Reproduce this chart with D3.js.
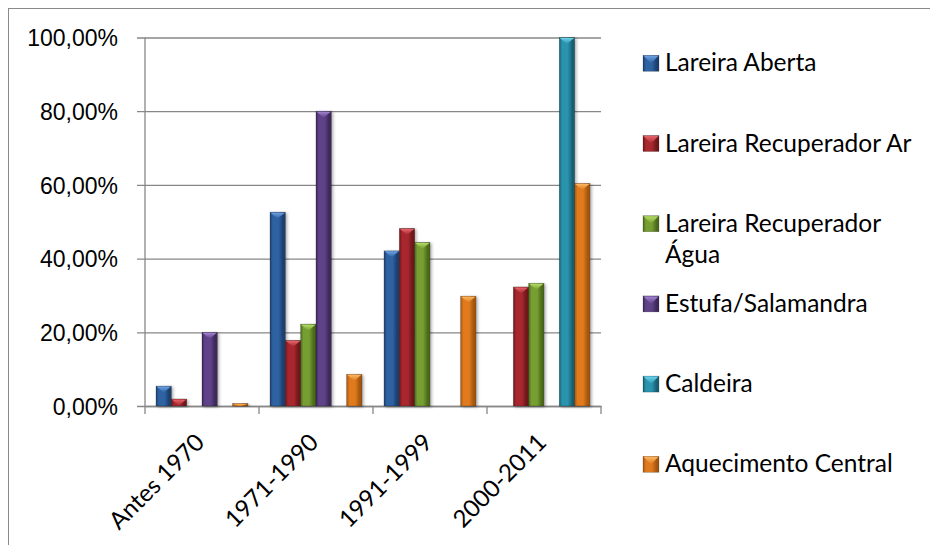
<!DOCTYPE html>
<html>
<head>
<meta charset="utf-8">
<script src="https://cdn.jsdelivr.net/npm/d3@7"></script>
<style>
  html, body { margin: 0; padding: 0; background: #fff; }
  svg { display: block; font-family: Lato, "Open Sans", sans-serif; }
</style>
</head>
<body>
<svg id="chart" width="930" height="545"></svg>
<script>
const categories = ["Antes 1970", "1971-1990", "1991-1999", "2000-2011"];
const seriesNames = [
  "Lareira Aberta",
  "Lareira Recuperador Ar",
  "Lareira Recuperador Água",
  "Estufa/Salamandra",
  "Caldeira",
  "Aquecimento Central"
];
const lareiraAberta = [0.054, 0.526, 0.421, 0];
const recuperadorAr = [0.019, 0.178, 0.482, 0.323];
const recuperadorAgua = [0, 0.222, 0.444, 0.333];
const estufa = [0.2, 0.8, 0, 0];
const caldeira = [0, 0, 0, 1.0];
const aquecimento = [0.007, 0.086, 0.298, 0.604];
const yTicks = [0, 0.2, 0.4, 0.6, 0.8, 1.0];

const seriesValues = [lareiraAberta, recuperadorAr, recuperadorAgua, estufa, caldeira, aquecimento];

// base / light / dark per series
const palette = [
  { base: "#2d62a3", light: "#6ea2e2", dark: "#1c3f6e" },
  { base: "#a8282e", light: "#e8646a", dark: "#6e181c" },
  { base: "#769e30", light: "#b4dc66", dark: "#4c6a1c" },
  { base: "#5e4288", light: "#a384d0", dark: "#3c295a" },
  { base: "#2a93ae", light: "#6cd2ea", dark: "#195f72" },
  { base: "#e07a1e", light: "#fbb862", dark: "#a4560f" }
];

const svg = d3.select("#chart");
const gridColor = "#878787";

const plot = { left: 145, right: 601, top: 37.5, bottom: 406 };

// outer frame
svg.append("rect")
  .attr("x", 8.5).attr("y", 8.5)
  .attr("width", 1000).attr("height", 1000)
  .attr("fill", "none")
  .attr("stroke", "#8a8a8a")
  .attr("stroke-width", 1);

const defs = svg.append("defs");
palette.forEach((p, i) => {
  const g = defs.append("linearGradient")
    .attr("id", "bar" + i)
    .attr("x1", "0").attr("x2", "1").attr("y1", "0").attr("y2", "0");
  g.append("stop").attr("offset", "0%").attr("stop-color", p.dark);
  g.append("stop").attr("offset", "18%").attr("stop-color", p.base);
  g.append("stop").attr("offset", "55%").attr("stop-color", p.base);
  g.append("stop").attr("offset", "85%").attr("stop-color", p.dark);
  g.append("stop").attr("offset", "100%").attr("stop-color", p.dark);
  const t = defs.append("linearGradient")
    .attr("id", "tip" + i)
    .attr("x1", "0").attr("x2", "0").attr("y1", "0").attr("y2", "1");
  t.append("stop").attr("offset", "0%").attr("stop-color", p.light);
  t.append("stop").attr("offset", "100%").attr("stop-color", p.base);
});
const shadow = defs.append("filter").attr("id", "shadow")
  .attr("x", "-30%").attr("y", "-10%").attr("width", "160%").attr("height", "130%");
shadow.append("feDropShadow")
  .attr("dx", 1.5).attr("dy", 1)
  .attr("stdDeviation", 1.4)
  .attr("flood-color", "#000")
  .attr("flood-opacity", 0.35);

const x0 = d3.scaleBand()
  .domain(categories)
  .range([plot.left, plot.right])
  .padding(0);

const x1 = d3.scaleBand()
  .domain(d3.range(seriesNames.length))
  .range([0, x0.bandwidth()])
  .paddingInner(0)
  .paddingOuter(0.72);

const y = d3.scaleLinear()
  .domain([0, 1])
  .range([plot.bottom, plot.top]);

const locale = d3.formatLocale({ decimal: ",", thousands: ".", grouping: [3], currency: ["", "€"] });
const pct = locale.format(".2%");

// gridlines + y labels
const yAxis = svg.append("g")
  .attr("transform", `translate(${plot.left},0)`)
  .call(d3.axisLeft(y)
    .tickValues(yTicks)
    .tickFormat(pct)
    .tickSizeInner(-(plot.right - plot.left))
    .tickSizeOuter(0)
    .tickPadding(27));
yAxis.select(".domain").remove();
yAxis.selectAll(".tick line")
  .attr("x1", -8)
  .attr("stroke", gridColor)
  .attr("stroke-width", 1.3);
yAxis.selectAll(".tick text")
  .attr("fill", "#000")
  .attr("dy", "0.36em")
  .style("font-size", "23px");

// axis lines
svg.append("line")
  .attr("x1", plot.left).attr("x2", plot.left)
  .attr("y1", plot.top).attr("y2", plot.bottom)
  .attr("stroke", gridColor).attr("stroke-width", 1.3);

const xAxis = svg.append("g")
  .attr("transform", `translate(0,${plot.bottom})`)
  .call(d3.axisBottom(x0).tickSize(0).tickFormat(""));
xAxis.select(".domain").attr("stroke", gridColor).attr("stroke-width", 1.3);

const boundaries = categories.map((c) => x0(c)).concat([x0.range()[1]]);
svg.append("g")
  .selectAll("line")
  .data(boundaries)
  .enter()
  .append("line")
  .attr("x1", (d) => d).attr("x2", (d) => d)
  .attr("y1", plot.bottom).attr("y2", plot.bottom + 8)
  .attr("stroke", gridColor).attr("stroke-width", 1.3);

svg.append("g")
  .selectAll("text")
  .data(categories)
  .enter()
  .append("text")
  .attr("transform", (c) => `translate(${x0(c) + x0.bandwidth() / 2 - 2},${plot.bottom + 32}) rotate(-45)`)
  .attr("text-anchor", "end")
  .attr("dy", "0.35em")
  .style("font-size", "24px")
  .attr("fill", "#000")
  .text((c) => c);

// bars
const barData = [];
seriesValues.forEach((vals, s) => {
  vals.forEach((v, c) => {
    if (v > 0) barData.push({ s, c: categories[c], v });
  });
});

const bars = svg.append("g")
  .selectAll("g.bar")
  .data(barData)
  .enter()
  .append("g")
  .classed("bar", true)
  .attr("filter", "url(#shadow)");

bars.append("rect")
  .attr("x", (d) => x0(d.c) + x1(d.s))
  .attr("y", (d) => y(d.v))
  .attr("width", x1.bandwidth())
  .attr("height", (d) => plot.bottom - y(d.v))
  .attr("fill", (d) => `url(#bar${d.s})`)
  .attr("stroke", "rgba(0,0,0,0.35)")
  .attr("stroke-width", 0.6);

bars.append("path")
  .attr("d", (d) => {
    const bx = x0(d.c) + x1(d.s);
    const w = x1.bandwidth();
    const top = y(d.v);
    const h = Math.min(w * 0.42, plot.bottom - top);
    return `M${bx + 0.5},${top + 0.5} L${bx + w - 0.5},${top + 0.5} L${bx + w / 2},${top + h} Z`;
  })
  .attr("fill", (d) => `url(#tip${d.s})`);

// legend
const legendBaseline = seriesNames.map((d, i) => 71.3 + i * 80.2);
const legend = svg.append("g")
  .selectAll("g")
  .data(seriesNames)
  .enter()
  .append("g")
  .attr("transform", (d, i) => `translate(643,${legendBaseline[i]})`);

legend.append("rect")
  .attr("x", 0).attr("y", -16)
  .attr("width", 16).attr("height", 16)
  .attr("fill", (d, i) => `url(#bar${i})`)
  .attr("stroke", "rgba(0,0,0,0.3)")
  .attr("stroke-width", 0.6);
legend.append("path")
  .attr("d", "M0.5,-15.5 L15.5,-15.5 L8,-8 Z")
  .attr("fill", (d, i) => `url(#tip${i})`);

legend.append("text")
  .attr("x", 22)
  .style("font-size", "24.5px")
  .attr("fill", "#000")
  .each(function (d) {
    const t = d3.select(this);
    if (d === "Lareira Recuperador Água") {
      t.append("tspan").attr("x", 22).text("Lareira Recuperador");
      t.append("tspan").attr("x", 22).attr("dy", "1.29em").text("Água");
    } else {
      t.text(d);
    }
  });
</script>
</body>
</html>
